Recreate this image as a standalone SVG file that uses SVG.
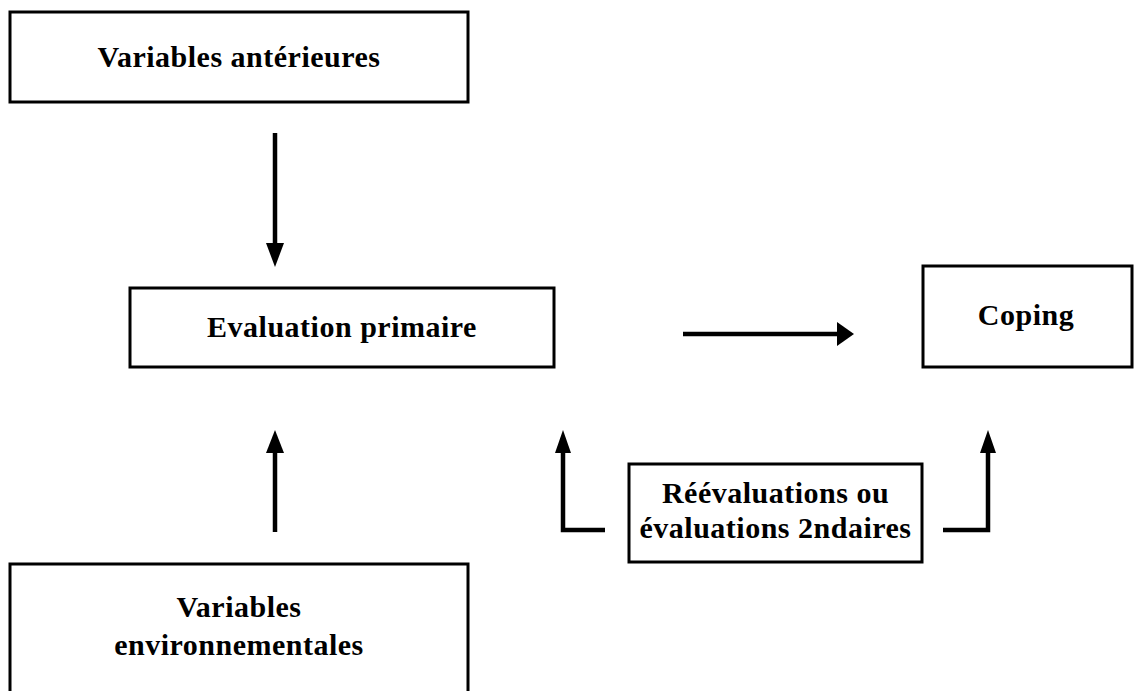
<svg xmlns="http://www.w3.org/2000/svg" width="1134" height="691" viewBox="0 0 1134 691">
<style>
.box{fill:#fff;stroke:#000;stroke-width:3}
.lbl{font-family:"Liberation Serif","Times New Roman",serif;font-weight:bold;font-size:30px;letter-spacing:0.5px;fill:#000;text-anchor:middle}
.conn{fill:none;stroke:#000;stroke-width:4.5}
.head{fill:#000;stroke:none}
</style>
<rect width="1134" height="691" fill="#fff"/>
<g id="node-variables-anterieures">
<rect class="box" x="10" y="12" width="458" height="90"/>
<text class="lbl" x="239" y="67">Variables antérieures</text>
</g>
<g id="node-evaluation-primaire">
<rect class="box" x="130" y="288" width="424" height="79"/>
<text class="lbl" x="342" y="337">Evaluation primaire</text>
</g>
<g id="node-coping">
<rect class="box" x="923" y="266" width="209" height="101"/>
<text class="lbl" x="1026" y="325">Coping</text>
</g>
<g id="node-reevaluations">
<rect class="box" x="629" y="464" width="293" height="98"/>
<text class="lbl" x="775.5" y="503">Réévaluations ou</text>
<text class="lbl" x="775.5" y="538">évaluations 2ndaires</text>
</g>
<g id="node-variables-environnementales">
<rect class="box" x="10" y="564" width="458" height="140"/>
<text class="lbl" x="239" y="617">Variables</text>
<text class="lbl" x="239" y="655">environnementales</text>
</g>
<g id="connectors">
<line class="conn" x1="275" y1="133" x2="275" y2="244"/>
<polygon class="head" points="266,243 284,243 275,267"/>
<line class="conn" x1="683" y1="334" x2="838" y2="334"/>
<polygon class="head" points="837,322 854,334 837,346"/>
<line class="conn" x1="275" y1="532" x2="275" y2="452"/>
<polygon class="head" points="266,453 284,453 275,430"/>
<path class="conn" d="M605,530 H563 V452"/>
<polygon class="head" points="555,453 571,453 563,430"/>
<path class="conn" d="M943,530 H988 V452"/>
<polygon class="head" points="980,453 996,453 988,430"/>
</g>
</svg>
